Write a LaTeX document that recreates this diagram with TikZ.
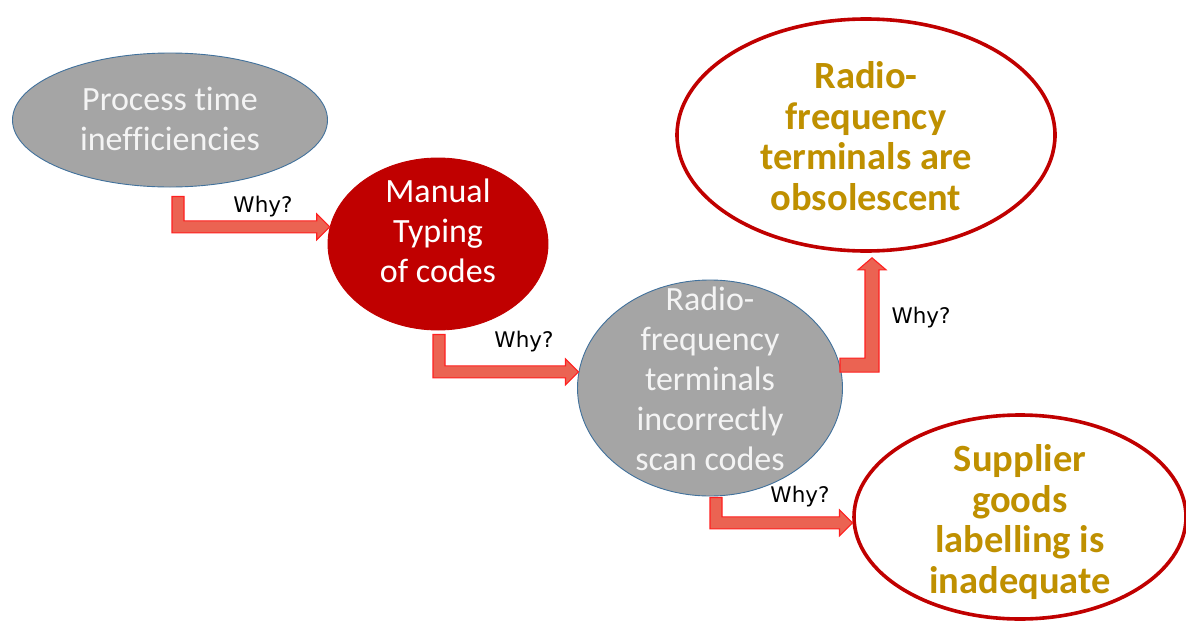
\documentclass[tikz,border=0pt]{standalone}
\usepackage{fontspec}
\setmainfont{Carlito}[Ligatures=NoCommon]
\newfontfamily\whyfont{DejaVu Sans}
\usetikzlibrary{shapes.geometric,calc}

\definecolor{bubblegray}{HTML}{A5A5A5}
\definecolor{edgeblue}{HTML}{41719C}
\definecolor{deepred}{HTML}{C00000}
\definecolor{goldtext}{HTML}{BF9000}
\definecolor{arrowfill}{HTML}{EB6352}
\definecolor{arrowedge}{HTML}{FF2020}
\definecolor{palewhite}{HTML}{F4F4F4}

\tikzset{
  grayball/.style={ellipse, draw=edgeblue, line width=0.9pt, fill=bubblegray, inner sep=0pt},
  redball/.style={ellipse, draw=deepred, line width=0.9pt, fill=deepred, inner sep=0pt},
  ringball/.style={ellipse, draw=deepred, line width=3.6pt, fill=white, inner sep=0pt},
  plaintext/.style={align=center, text=palewhite, font=\fontsize{34}{40}\selectfont, inner sep=0pt},
  goldlabel/.style={align=center, text=goldtext, font=\bfseries\fontsize{38.5}{40.5}\selectfont, inner sep=0pt},
  whylabel/.style={text=black, font=\whyfont\fontsize{21.5}{24}\selectfont, inner sep=0pt},
  elbowarrow/.style={fill=arrowfill, draw=arrowedge, line width=1.1pt, line join=miter},
}

% elbow arrow: down from #1, then right to the tip #2
\newcommand\downright[2]{%
  \filldraw[elbowarrow] let \p1=(#1), \p2=(#2) in
    (\x1-6pt,\y1) -- (\x1+6pt,\y1) -- (\x1+6pt,\y2+6pt) -- (\x2-13pt,\y2+6pt)
    -- (\x2-13pt,\y2+13pt) -- (\x2,\y2) -- (\x2-13pt,\y2-13pt) -- (\x2-13pt,\y2-6pt)
    -- (\x1-6pt,\y2-6pt) -- cycle;}
% elbow arrow: right from #1, then up to the tip #2
\newcommand\rightup[2]{%
  \filldraw[elbowarrow] let \p1=(#1), \p2=(#2) in
    (\x1,\y1-7pt) -- (\x2+7pt,\y1-7pt) -- (\x2+7pt,\y2-12pt) -- (\x2+14pt,\y2-12pt)
    -- (\x2,\y2) -- (\x2-14pt,\y2-12pt) -- (\x2-7pt,\y2-12pt) -- (\x2-7pt,\y1+7pt)
    -- (\x1,\y1+7pt) -- cycle;}

\begin{document}
\begin{tikzpicture}[x=1pt,y=-1pt]
  \useasboundingbox (0,0) rectangle (1186,624);

  % bubbles
  \node[grayball, minimum width=315pt, minimum height=134pt] (e1) at (170,120) {};
  \node[redball, minimum width=220pt, minimum height=172pt] (e2) at (438,244) {};
  \node[grayball, minimum width=265pt, minimum height=216pt] (e3) at (710,388) {};
  \node[ringball, minimum width=378pt, minimum height=232pt] (e4) at (866,135) {};
  \node[ringball, minimum width=332pt, minimum height=204pt] (e5) at (1020,517) {};

  % bubble texts
  \node[plaintext] (t1) at (170,119) {Process time\\inefficiencies};
  \node[plaintext, text=white] (t2) at (438,231) {Manual\\Typing\\of codes};
  \node[plaintext] (t3) at (710,379) {Radio-\\frequency\\terminals\\incorrectly\\scan codes};
  \node[goldlabel] (t4) at (866,136) {Radio-\\frequency\\terminals are\\obsolescent};
  \node[goldlabel] (t5) at (1020,522) {Supplier\\goods\\labelling is\\inadequate};

  % arrow ends
  \coordinate (s1) at ($(e1.south)+(8,9)$);
  \coordinate (s2) at ($(e2.south)+(1,4)$);
  \coordinate (s3) at (e3.10);
  \coordinate (s4) at ($(e3.south)+(6,1)$);
  \coordinate (h3) at ($(e4.south)+(6,5)$);

  % connectors
  \downright{s1}{e2.171}
  \downright{s2}{e3.173.5}
  \rightup{s3}{h3}
  \downright{s4}{e5.182}

  % labels
  \node[whylabel] (w1) at (263,207) {Why?};
  \node[whylabel] (w2) at (524,342) {Why?};
  \node[whylabel] (w3) at (921,318) {Why?};
  \node[whylabel] (w4) at (800,497) {Why?};
\end{tikzpicture}
\end{document}
